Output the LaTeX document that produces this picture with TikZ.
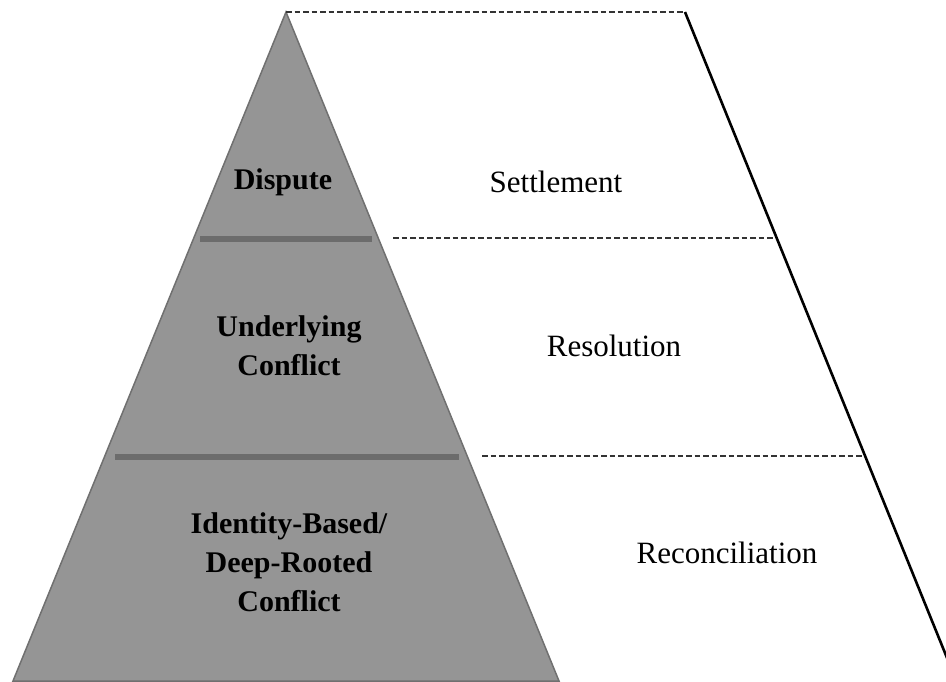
\documentclass[tikz,border=0pt]{standalone}
\usepackage{fontspec}
\setmainfont{Liberation Serif}
\usepackage{tikz}
\usetikzlibrary{calc}
\usetikzlibrary{positioning}

\definecolor{pyrfill}{RGB}{149,149,149}
\definecolor{pyredge}{RGB}{112,112,112}
\definecolor{pyrbar}{RGB}{108,108,108}

\tikzset{
  level/.style={font=\fontsize{30}{39}\selectfont\bfseries, align=center, inner sep=0.75pt},
  outcome/.style={font=\fontsize{31}{39}\selectfont, inner sep=0.75pt},
  sep/.style={dash pattern=on 5.5pt off 3pt, line width=1.1pt, draw=black!80},
  bar/.style={line width=6pt, draw=pyrbar}
}

\begin{document}
\begin{tikzpicture}[x=1pt,y=1pt,yscale=-1,xscale=1]
                  \useasboundingbox (0,0) rectangle (946,681);

                  %Shape: Pyramid
                  \draw [fill=pyrfill, draw=pyredge, line width=1.5]  (286,12) -- (559,681) -- (13,681) -- cycle ;
                  %Shape: Bars
                  \draw [bar]  (200,239) -- (372,239) ;
                  \draw [bar]  (115,457) -- (459,457) ;

                  %Shape: Dashed lines
                  \draw [sep]  (286,12) -- (685,12) ;
                  \draw [sep]  (393,238) -- (777,238) ;
                  \draw [sep]  (482,456) -- (865,456) ;
                  %Shape: Slope
                  \draw [line width=2.6]  (685,12) -- (958,685) ;

                  % Text Node
                  \node [level] (dispute) at (283,182) {Dispute};
                  % Text Node
                  \node [level] (underlying) at (289,346) {Underlying\\Conflict};
                  % Text Node
                  \node [level] (identity) at (289,562) {Identity-Based/\\Deep-Rooted\\Conflict};
                  % Text Node
                  \node [outcome] (settlement) at (556,182) {Settlement};
                  % Text Node
                  \node [outcome] (resolution) at (614,346) {Resolution};
                  % Text Node
                  \node [outcome] (reconciliation) at (727,553) {Reconciliation};

              \end{tikzpicture}
\end{document}
